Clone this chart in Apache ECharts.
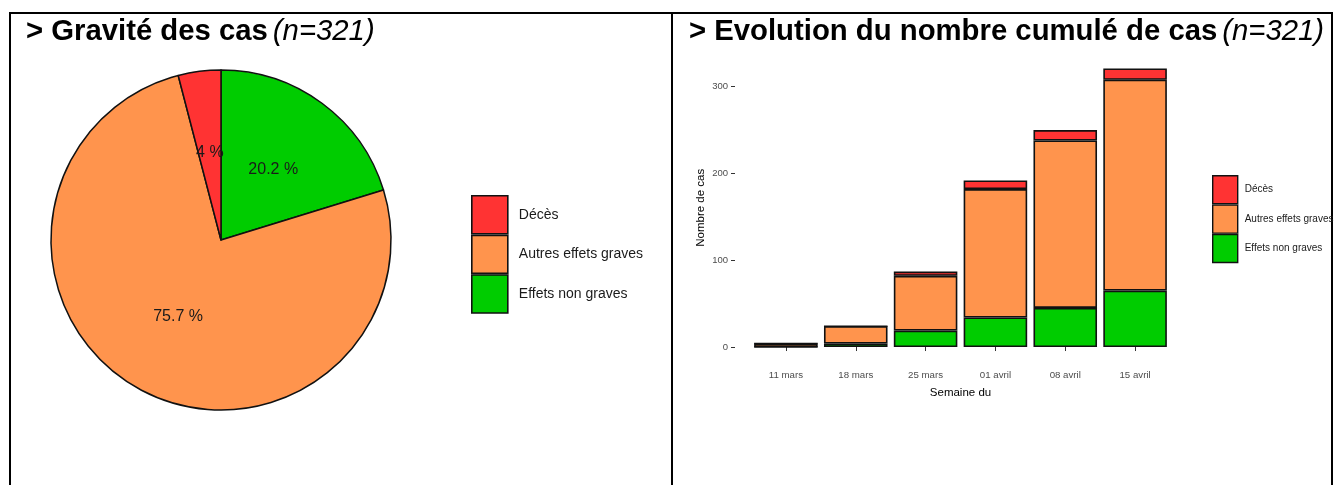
<!DOCTYPE html>
<html>
<head>
<meta charset="utf-8">
<script src="https://cdn.jsdelivr.net/npm/echarts@6/dist/echarts.min.js"></script>
<style>
  html, body { margin: 0; padding: 0; background: #fff; }
  #chart { width: 1339px; height: 485px; }
</style>
</head>
<body>
<div id="chart"></div>
<script>
// ---- data ----
const severityNames = ['Effets non graves', 'Autres effets graves', 'Décès'];
const severityCounts = [65, 243, 13];
const legendOrder = ['Décès', 'Autres effets graves', 'Effets non graves'];
const weeks = ['11 mars', '18 mars', '25 mars', '01 avril', '08 avril', '15 avril'];
const nonGraves = [0, 4, 19, 34, 45, 65];
const autresGraves = [4, 20, 63, 148, 193, 243];
const deces = [0, 0, 5, 10, 12, 13];
const yTicks = [0, 100, 200, 300];

const colors = {
  'Décès': '#FF3333',
  'Autres effets graves': '#FF944D',
  'Effets non graves': '#00CC00'
};
const FONT = '"Liberation Sans", Arial, sans-serif';
const total = severityCounts.reduce((a, b) => a + b, 0);

const chart = echarts.init(document.getElementById('chart'), null, { renderer: 'canvas' });

const barSeries = [
  ['Effets non graves', nonGraves],
  ['Autres effets graves', autresGraves],
  ['Décès', deces]
].map(([name, vals]) => ({
  name: name,
  type: 'bar',
  stack: 'cum',
  data: vals,
  barWidth: '91%',
  itemStyle: { color: colors[name], borderColor: '#111', borderWidth: 1.6 },
  emphasis: { disabled: true }
}));

const titleRich = {
  b: { fontFamily: FONT, fontWeight: 'bold', fontSize: 29.3, color: '#000' },
  i: { fontFamily: FONT, fontStyle: 'italic', fontWeight: 'normal', fontSize: 29.3, color: '#000' }
};

const option = {
  animation: false,
  textStyle: { fontFamily: FONT },
  title: [
    {
      text: '{b|> Gravité des cas} {i|(n=321)}',
      left: 21, top: 12,
      textStyle: { rich: titleRich }
    },
    {
      text: '{b|> Evolution du nombre cumulé de cas} {i|(n=321)}',
      left: 684, top: 12,
      textStyle: { rich: titleRich }
    }
  ],
  legend: [
    {
      data: legendOrder,
      orient: 'vertical',
      left: 471, top: 195,
      padding: 0,
      itemWidth: 36, itemHeight: 38, itemGap: 0,
      icon: 'rect',
      selectedMode: false,
      itemStyle: { borderColor: '#111', borderWidth: 1.6 },
      textStyle: { fontFamily: FONT, fontSize: 14, color: '#1a1a1a', padding: [0, 0, 0, 6] }
    },
    {
      data: legendOrder,
      orient: 'vertical',
      left: 1212, top: 175,
      padding: 0,
      itemWidth: 25, itemHeight: 28, itemGap: 0,
      icon: 'rect',
      selectedMode: false,
      itemStyle: { borderColor: '#111', borderWidth: 1.4 },
      textStyle: { fontFamily: FONT, fontSize: 10, color: '#1a1a1a', padding: [0, 0, 0, 2] }
    }
  ],
  grid: {
    left: 751, right: 169, top: 54.6, bottom: 124.1
  },
  xAxis: {
    type: 'category',
    data: weeks,
    axisLine: { show: false },
    axisTick: { show: true, alignWithLabel: true, length: 4, lineStyle: { color: '#333', width: 1 } },
    axisLabel: { fontFamily: FONT, fontSize: 9.7, color: '#4d4d4d', margin: 9 },
    name: 'Semaine du',
    nameLocation: 'middle',
    nameGap: 26,
    nameTextStyle: { fontFamily: FONT, fontSize: 11.5, color: '#000' }
  },
  yAxis: {
    type: 'value',
    min: -16, max: 337,
    offset: 16,
    splitLine: { show: false },
    axisLine: { show: false },
    axisTick: { show: true, length: 4, customValues: yTicks, lineStyle: { color: '#333', width: 1 } },
    axisLabel: { fontFamily: FONT, fontSize: 9.5, color: '#4d4d4d', margin: 7, customValues: yTicks },
    name: 'Nombre de cas',
    nameLocation: 'middle',
    nameGap: 28,
    nameTextStyle: { fontFamily: FONT, fontSize: 11.5, color: '#000' }
  },
  series: [
    {
      type: 'pie',
      center: [221, 240],
      radius: 170,
      startAngle: 90,
      clockwise: true,
      avoidLabelOverlap: false,
      emphasis: { disabled: true },
      data: severityNames.map((n, i) => ({
        name: n, value: severityCounts[i],
        itemStyle: { color: colors[n] }
      })),
      itemStyle: { borderColor: '#111', borderWidth: 1.5 },
      label: {
        position: 'inside',
        fontFamily: FONT,
        fontSize: 16,
        color: '#1a1a1a',
        formatter: p => (Math.round(p.value / total * 1000) / 10) + ' %'
      },
      labelLine: { show: false }
    }
  ].concat(barSeries),
  graphic: [
    { type: 'line', shape: { x1: 9, y1: 13, x2: 1333, y2: 13 }, style: { stroke: '#000', lineWidth: 2 } },
    { type: 'line', shape: { x1: 10, y1: 12, x2: 10, y2: 485 }, style: { stroke: '#000', lineWidth: 2 } },
    { type: 'line', shape: { x1: 672, y1: 12, x2: 672, y2: 485 }, style: { stroke: '#000', lineWidth: 2 } },
    { type: 'line', shape: { x1: 1332, y1: 12, x2: 1332, y2: 485 }, style: { stroke: '#000', lineWidth: 2 } }
  ]
};

chart.setOption(option);
</script>
</body>
</html>
